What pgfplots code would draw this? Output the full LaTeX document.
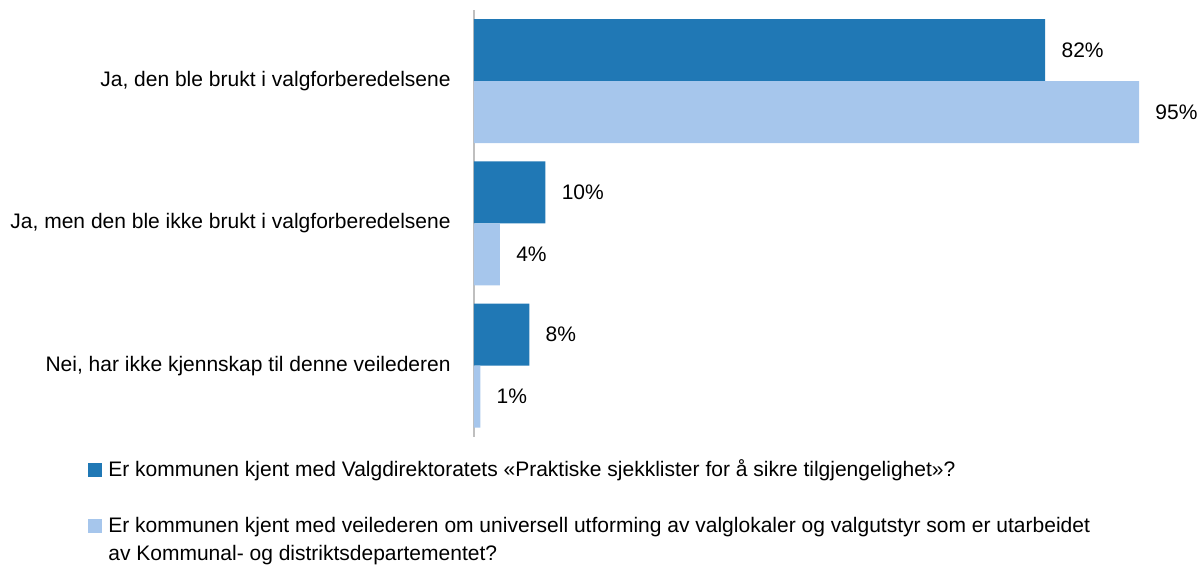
\documentclass[border=0pt]{standalone}
\usepackage{fontspec}
\setmainfont{Liberation Sans}
\usepackage{pgfplots}
\pgfplotsset{compat=1.18}
\definecolor{cdark}{RGB}{32,120,181}
\definecolor{clight}{RGB}{166,198,236}
\pgfplotsset{sqlegend/.style={legend image code/.code={\fill[##1] (0pt,-2.5pt) rectangle (7pt,4.5pt);}}}
\newcommand{\lf}{\fontsize{10.5}{12.6}\selectfont}
\begin{document}
\begin{tikzpicture}
\path[use as bounding box] (-237pt,-65.65pt) rectangle (361.5pt,218.35pt);
\begin{axis}[
  at={(0pt,0pt)}, anchor=south west,
  scale only axis, width=350pt, height=213.35pt,
  xmin=0, xmax=100, ymin=-0.5, ymax=2.5,
  xbar, bar width=31pt,
  clip=false,
  axis x line=none,
  axis y line*=left,
  y axis line style={draw=black!25, line width=1pt},
  ytick={0,1,2},
  yticklabels={{Nei, har ikke kjennskap til denne veilederen},{Ja, men den ble ikke brukt i valgforberedelsene},{Ja, den ble brukt i valgforberedelsene}},
  major tick length=0pt,
  yticklabel style={font=\lf, inner sep=0pt, anchor=east, xshift=-11.5pt},
  /pgf/number format/assume math mode=true,
  point meta=x,
  nodes near coords={\pgfmathprintnumber[fixed,precision=0]{\pgfplotspointmeta}\%},
  every node near coord/.append style={font=\lf, anchor=west, inner sep=0pt, xshift=8pt, text=black},
  legend cell align=left,
  legend style={at={(-0.5514,-0.04992)}, anchor=north west, draw=none, fill=none,
    inner sep=0pt, row sep=0pt, column sep=3pt, font=\lf,
    nodes={inner sep=0pt, text height=9pt, text depth=5pt}},
]
\addlegendimage{sqlegend, fill=cdark, draw=none}
\addlegendentry{Er kommunen kjent med Valgdirektoratets «Praktiske sjekklister for å sikre tilgjengelighet»?}
\addlegendimage{empty legend}
\addlegendentry{}
\addlegendimage{sqlegend, fill=clight, draw=none}
\addlegendentry{Er kommunen kjent med veilederen om universell utforming av valglokaler og valgutstyr som er utarbeidet}
\addlegendimage{empty legend}
\addlegendentry{av Kommunal- og distriktsdepartementet?}
\addplot[forget plot, fill=cdark, draw=none, bar shift=15.5pt] coordinates {(7.9,0) (10.2,1) (81.6,2)};
\addplot[forget plot, fill=clight, draw=none, bar shift=-15.5pt] coordinates {(0.9,0) (3.7,1) (95,2)};
\end{axis}
\end{tikzpicture}
\end{document}
